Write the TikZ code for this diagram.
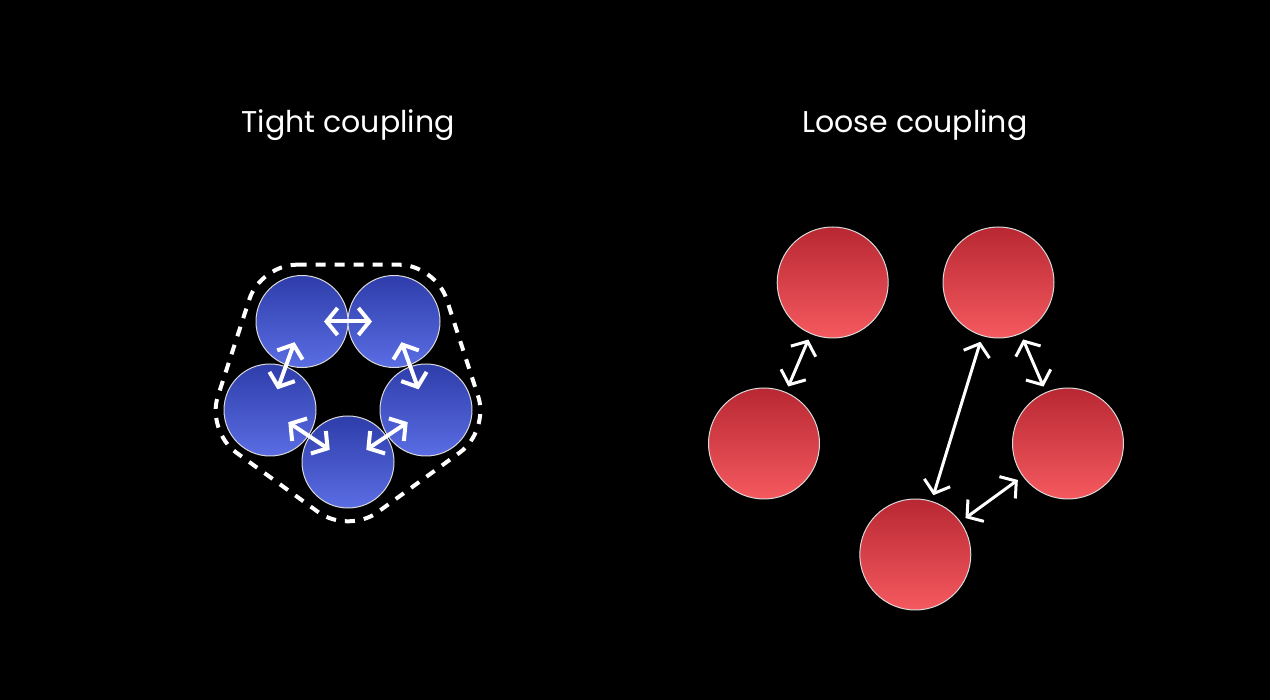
\documentclass[tikz,border=0pt]{standalone}
\usepackage{fontspec}
\setmainfont{Poppins}
\usetikzlibrary{arrows.meta}
\definecolor{bluetop}{HTML}{2E3DAA}
\definecolor{bluebot}{HTML}{5A6DE3}
\definecolor{redtop}{HTML}{B82832}
\definecolor{redbot}{HTML}{F5595F}
\tikzset{
  ball/.style={circle, draw=white!85!black, line width=1pt, inner sep=0pt},
  blueball/.style={ball, minimum size=92pt, top color=bluetop, bottom color=bluebot},
  redball/.style={ball, minimum size=111pt, top color=redtop, bottom color=redbot},
  link/.style={white, line width=4pt, {Straight Barb[length=11pt,width=27pt]}-{Straight Barb[length=11pt,width=27pt]}},
  title/.style={white, font=\fontsize{30}{36}\selectfont, anchor=base}
}
\begin{document}
\begin{tikzpicture}[x=1pt, y=-1pt]
\fill[black](0,0) rectangle (1270,700);
\node[title] (tight) at (348,133) {Tight coupling};
\node[title] (loose) at (915,133) {Loose coupling};
% tight coupling
\draw[white, line width=4pt, dash pattern=on 10pt off 9pt, rounded corners=36pt]
  (260.6,264.7) -- (435.4,264.7) -- (489.4,431) -- (348,533.7) -- (206.6,431) -- cycle;
\node[blueball] (ta) at (302,321.5) {};
\node[blueball] (tb) at (394,321.5) {};
\node[blueball] (tc) at (426,410) {};
\node[blueball] (td) at (348,462) {};
\node[blueball] (te) at (270,410) {};
\foreach \u/\v in {ta/tb, tb/tc, tc/td, td/te, te/ta}
  \draw[link, shorten <=22pt, shorten >=22pt] (\u.center) -- (\v.center);
% loose coupling
\node[redball] (la) at (832.7,282.5) {};
\node[redball] (lb) at (998.5,282.5) {};
\node[redball] (lc) at (1068,443.5) {};
\node[redball] (ld) at (915.3,554.5) {};
\node[redball] (le) at (764,443.5) {};
\draw[link, line width=3pt, shorten <=6pt, shorten >=6pt] (le) -- (la);
\draw[link, line width=3pt, shorten <=6pt, shorten >=6pt] (ld) -- (lb);
\draw[link, line width=3pt, shorten <=6pt, shorten >=6pt] (lb) -- (lc);
\draw[link, line width=3pt, shorten <=6pt, shorten >=6pt] (ld) -- (lc);
\end{tikzpicture}
\end{document}
